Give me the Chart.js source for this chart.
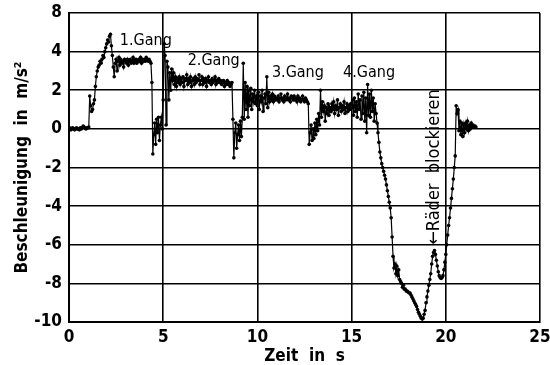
<!DOCTYPE html>
<html>
<head>
<meta charset="utf-8">
<script src="https://cdn.jsdelivr.net/npm/chart.js@4"></script>
<style>
  html,body{margin:0;padding:0;background:#fff;}
  #wrap{width:550px;height:365px;}
</style>
</head>
<body>
<div id="wrap"><canvas id="chart" width="550" height="365"></canvas></div>
<script>
// Beschleunigung eines Pkw beim Hochschalten und Vollbremsung.
// Samples every 0.05 s, one row per second (values in m/s²).
const T_STEP = 0.05;
const ACCEL = [
  [0.0,0.05,-0.05,0.0,0.05,0.0,-0.05,0.0,0.05,0.0,0.0,-0.05,0.05,0.0,0.05,0.15,0.1,0.05,0.0,0.05],
  [0.05,0.1,1.7,1.2,0.9,1.0,1.3,1.5,2.2,2.7,3.0,3.2,3.3,3.5,3.4,3.6,3.8,3.7,4.0,4.2],
  [4.4,4.6,4.5,4.8,4.9,4.3,3.8,3.2,2.7,3.4,3.6,3.0,3.5,3.7,3.3,3.6,3.4,3.5,3.2,3.6],
  [3.5,3.4,3.6,3.3,3.5,3.6,3.4,3.5,3.7,3.4,3.5,3.6,3.4,3.5,3.6,3.5,3.7,3.4,3.6,3.5],
  [3.6,3.5,3.7,3.6,3.5,3.6,3.5,3.4,2.4,-1.3,-0.3,0.3,-0.8,0.5,-0.2,0.6,-0.6,0.2,0.6,0.0],
  [1.5,4.4,3.8,0.2,3.5,3.2,1.5,2.9,2.0,3.1,2.5,2.9,2.3,2.7,2.2,2.6,2.4,2.7,2.3,2.6],
  [2.4,2.7,2.2,2.6,2.5,2.8,2.3,2.6,2.4,2.7,2.2,2.5,2.6,2.3,2.7,2.4,2.6,2.5,2.8,2.3],
  [2.5,2.7,2.3,2.6,2.4,2.6,2.2,2.5,2.7,2.4,2.5,2.3,2.6,2.4,2.5,2.7,2.3,2.5,2.4,2.6],
  [2.4,2.5,2.3,2.4,2.5,2.2,2.4,2.3,2.5,2.3,2.4,2.2,2.3,2.4,0.5,-1.5,-0.2,0.3,-1.0,-0.3],
  [0.2,-0.6,0.4,-0.4,0.6,3.4,0.5,2.4,1.0,2.2,0.6,2.0,1.2,2.1,1.0,1.8,1.4,2.0,1.3,1.7],
  [1.2,1.9,1.0,1.7,1.4,2.0,0.9,1.6,1.8,1.3,2.7,1.1,1.9,1.4,1.7,1.5,1.8,1.4,1.7,1.5],
  [1.6,1.5,1.7,1.4,1.6,1.8,1.5,1.6,1.4,1.7,1.5,1.6,1.8,1.5,1.6,1.4,1.7,1.6,1.5,1.7],
  [1.5,1.6,1.4,1.7,1.5,1.6,1.4,1.5,1.7,1.5,1.4,1.6,1.5,1.4,1.3,-0.8,-0.2,0.2,-0.6,0.0],
  [-0.5,0.3,-0.3,0.5,-0.1,0.8,0.2,2.0,0.6,1.4,0.9,1.2,0.4,1.1,0.8,1.3,0.7,1.1,0.9,1.3],
  [1.0,1.4,0.8,1.2,1.0,1.5,0.7,1.1,1.3,0.9,1.2,1.0,1.4,0.8,1.1,1.3,0.9,1.2,1.0,1.3],
  [1.1,1.5,0.7,1.6,0.9,1.4,0.6,1.8,1.0,1.5,0.5,1.7,0.8,1.9,0.4,1.6,-0.2,2.3,0.7,1.8],
  [0.6,2.0,0.9,1.6,0.4,1.3,0.8,0.3,-0.2,-0.7,-1.2,-1.5,-1.8,-2.0,-2.2,-2.4,-2.6,-2.9,-3.2,-3.5],
  [-3.8,-4.1,-4.6,-5.6,-6.6,-7.2,-7.0,-7.5,-7.1,-7.6,-7.3,-7.8,-7.9,-8.0,-8.2,-8.1,-8.3,-8.3,-8.4,-8.4],
  [-8.45,-8.5,-8.5,-8.6,-8.7,-8.8,-8.9,-9.0,-9.1,-9.2,-9.35,-9.5,-9.6,-9.7,-9.8,-9.85,-9.8,-9.6,-9.4,-9.0],
  [-8.7,-8.4,-8.1,-7.8,-7.5,-7.0,-6.6,-6.4,-6.3,-6.5,-6.8,-7.1,-7.4,-7.6,-7.7,-7.75,-7.7,-7.6,-7.3,-6.9],
  [-6.5,-6.0,-5.5,-5.0,-4.6,-4.1,-3.6,-3.1,-2.6,-2.0,-1.4,1.2,0.8,1.0,-0.1,0.4,-0.3,0.3,-0.4,0.2],
  [-0.2,0.3,0.0,0.4,-0.1,0.2,0.0,0.3,0.1,0.2,0.1,0.15,0.1]
];

// The original axis is labelled 8 at its top, which sits one grid step above 4.
const Y_TICKS       = [-10,-8,-6,-4,-2,0,2,4,6];
const Y_TICK_LABELS = ["-10","-8","-6","-4","-2","0","2","4","8"];
const X_TICKS = [0,5,10,15,20,25];

// gear labels: text, left edge (s), middle (m/s²)
const GEAR_TEXT = ["1.Gang","2.Gang","3.Gang","4.Gang"];
const GEAR_T    = [2.7, 6.3, 10.77, 14.55];
const GEAR_A    = [4.55, 3.5, 2.9, 2.9];
const LOCK_TEXT = "\u2190R\u00e4der  blockieren";
const LOCK_T = 19.37, LOCK_A = -6.0;

const FONT = '"DejaVu Sans Condensed","DejaVu Sans",sans-serif';

const points = ACCEL.flat().map((a,i)=>({x:+(i*T_STEP).toFixed(2), y:a}));

const labelsPlugin = {
  id:"labels",
  afterDatasetsDraw(c){
    const {ctx, scales:{x,y}} = c;
    ctx.save();
    ctx.fillStyle = "#000";
    ctx.font = "16px " + FONT;
    ctx.textBaseline = "middle";
    ctx.textAlign = "left";
    GEAR_TEXT.forEach((t,i)=>ctx.fillText(t, x.getPixelForValue(GEAR_T[i]), y.getPixelForValue(GEAR_A[i])));
    ctx.font = "18px " + FONT;
    ctx.translate(x.getPixelForValue(LOCK_T), y.getPixelForValue(LOCK_A));
    ctx.rotate(-Math.PI/2);
    ctx.fillText(LOCK_TEXT, 0, 0);
    ctx.restore();
  }
};

new Chart(document.getElementById("chart"), {
  type:"line",
  data:{datasets:[{
    data: points,
    borderColor:"#000", borderWidth:1.2,
    pointRadius:1.8, pointBackgroundColor:"#000", pointBorderWidth:0,
    tension:0
  }]},
  options:{
    responsive:false, animation:false,
    layout:{padding:{left:0,right:10,top:13,bottom:0}},
    plugins:{legend:{display:false}, tooltip:{enabled:false}},
    scales:{
      x:{
        type:"linear", min:0, max:25,
        afterBuildTicks:s=>{ s.ticks = X_TICKS.map(v=>({value:v})); },
        afterFit:s=>{ s.height = 43; s.paddingLeft = 0; s.paddingRight = 0; },
        grid:{color:"#000", lineWidth:1.6, drawTicks:false},
        border:{color:"#000", width:2},
        ticks:{color:"#000", padding:5, font:{family:FONT, size:17, weight:"bold"}, maxRotation:0},
        title:{display:true, text:"Zeit  in  s", color:"#000", padding:{top:0,bottom:0},
               font:{family:FONT, size:17, weight:"bold", lineHeight:1}}
      },
      y:{
        min:-10, max:6,
        afterBuildTicks:s=>{ s.ticks = Y_TICKS.map(v=>({value:v})); },
        afterFit:s=>{ s.width = 69; s.paddingTop = 0; s.paddingBottom = 0; },
        grid:{color:"#000", lineWidth:1.6, drawTicks:false},
        border:{color:"#000", width:2},
        ticks:{color:"#000", padding:7, font:{family:FONT, size:17, weight:"bold"},
               callback:v=>Y_TICK_LABELS[Y_TICKS.indexOf(v)]},
        title:{display:true, text:"Beschleunigung  in  m/s\u00b2", color:"#000", padding:{top:12,bottom:0},
               font:{family:FONT, size:17, weight:"bold"}}
      }
    }
  },
  plugins:[labelsPlugin]
});
</script>
</body>
</html>
